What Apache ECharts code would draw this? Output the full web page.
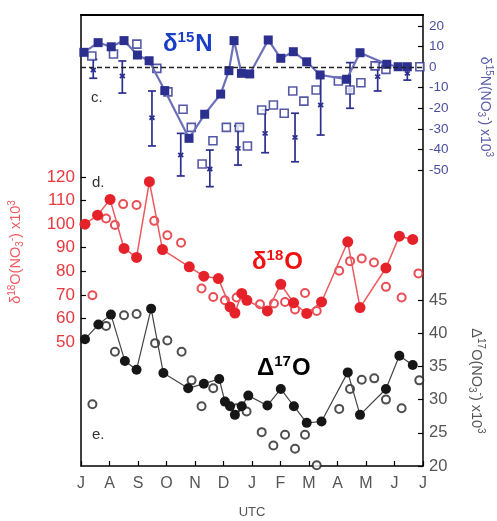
<!DOCTYPE html>
<html><head><meta charset="utf-8">
<script src="https://cdn.jsdelivr.net/npm/echarts/dist/echarts.min.js"></script>
<style>html,body{margin:0;padding:0;background:#fff}#c{width:497px;height:521px}</style>
</head><body><div id="c"></div>
<script>
// ---- data (x = months since July, y = per mil) ----
const monthLabels = ['J','A','S','O','N','D','J','F','M','A','M','J','J'];
const d15NFilled = [[0.10,7.2],[0.60,11.9],[1.06,9.9],[1.51,12.9],[1.98,5.9],[2.39,3.1],[2.94,-11.4],[3.79,-34.6],[4.34,-22.9],[4.90,-13.1],[5.19,-1.7],[5.37,12.9],[5.63,-3.0],[5.92,-3.3],[6.57,13.2],[7.01,4.3],[7.45,7.5],[7.92,2.6],[8.39,-3.8],[9.32,-5.9],[9.79,7.0],[10.73,1.4],[11.13,0.2],[11.45,0.2]];
const d15NOpen = [[0.38,5.4],[1.14,6.4],[1.96,11.2],[2.66,-0.6],[3.05,-12.0],[3.58,-20.5],[3.87,-29.3],[4.25,-47.1],[4.63,-35.8],[5.10,-29.3],[5.56,-29.3],[5.84,-38.3],[6.34,-20.8],[6.75,-18.4],[7.13,-22.4],[7.43,-11.6],[7.82,-16.5],[8.25,-11.1],[9.03,-6.7],[9.44,-11.1],[9.82,-7.6],[10.32,0.6],[10.70,-1.1],[11.89,0.2]];
// [x, centre, low, high]
const d15NErr = [[0.43,-1.4,-5.4,3.8],[1.45,-4.3,-12.6,3.0],[2.49,-24.6,-38.3,-11.6],[3.50,-42.7,-52.9,-32.2],[4.52,-49.5,-58.1,-40.3],[5.51,-39.5,-47.6,-28.6],[6.46,-32.2,-41.6,-20.8],[7.51,-34.1,-46.0,-22.4],[8.41,-18.4,-33.0,-3.8],[9.44,-11.1,-20.0,2.2],[10.41,-4.6,-11.6,2.2],[11.45,-3.0,-6.3,0.2]];
const d18OFilled = [[0.14,100.0],[0.58,103.8],[1.02,110.5],[1.51,89.7],[1.95,85.9],[2.40,118.0],[2.86,89.2],[3.80,81.9],[4.31,77.9],[4.82,76.9],[5.23,64.9],[5.40,62.3],[5.64,70.6],[5.82,67.7],[6.54,63.2],[7.01,74.5],[7.46,66.6],[7.92,62.1],[8.44,67.0],[9.36,92.5],[9.79,64.6],[10.70,81.4],[11.17,94.9],[11.64,93.5]];
const d18OOpen = [[0.40,69.8],[0.88,102.4],[1.19,99.6],[1.48,108.5],[1.95,108.1],[2.57,101.4],[3.03,95.3],[3.51,92.1],[4.23,72.7],[4.64,69.1],[5.05,67.7],[5.46,68.9],[6.28,66.0],[6.77,66.3],[7.16,67.0],[7.51,63.8],[7.86,70.8],[8.27,63.2],[9.06,80.2],[9.44,84.3],[9.85,85.4],[10.28,83.7],[10.70,73.4],[11.25,68.9],[11.84,79.1]];
const D17OFilled = [[0.14,39.1],[0.61,41.3],[1.05,42.8],[1.54,35.8],[1.95,34.5],[2.46,43.7],[2.89,34.0],[3.76,31.7],[4.31,32.4],[4.85,33.1],[5.05,29.7],[5.23,29.0],[5.40,27.7],[5.64,29.0],[5.87,30.6],[6.54,29.1],[7.01,31.6],[7.47,29.0],[7.92,26.5],[8.44,26.7],[9.36,34.1],[9.79,27.7],[10.70,31.6],[11.17,36.6],[11.64,35.2]];
const D17OOpen = [[0.40,29.3],[0.88,41.1],[1.19,37.2],[1.51,42.7],[1.95,42.9],[2.60,38.5],[3.03,38.9],[3.53,37.2],[3.88,32.9],[4.23,29.0],[4.64,31.7],[5.46,28.7],[5.81,28.2],[6.34,25.1],[6.75,23.1],[7.16,24.7],[7.51,22.6],[7.86,24.7],[8.27,20.1],[9.06,28.6],[9.44,31.6],[9.85,33.0],[10.29,33.2],[10.70,30.0],[11.25,28.7],[11.87,32.9]];

const FONT = '"Liberation Sans", Arial, Helvetica, sans-serif';
const NAVY = '#2b2f8e', NAVYLINE = '#6c70b8', RED = '#e5222a', REDLINE = '#ea5a5f', BLK = '#161616';
const L = 81, R = 497 - 423;

const chart = echarts.init(document.getElementById('c'), null, {renderer: 'canvas'});

function xAx(i, show) {
  return {
    type: 'value', gridIndex: i, min: 0, max: 12, interval: 1, show: show,
    axisLine: {show: true, onZero: false, lineStyle: {color: '#000', width: 1.5}},
    axisTick: {show: true, inside: true, length: 5, lineStyle: {color: '#000', width: 1.2}},
    axisLabel: {color: '#555', fontSize: 16, fontFamily: FONT, margin: 10, formatter: v => monthLabels[Math.round(v)]},
    splitLine: {show: false},
    name: 'UTC', nameLocation: 'middle', nameGap: 40,
    nameTextStyle: {color: '#555', fontSize: 13, fontFamily: FONT}
  };
}
function frameY(pos) {
  return {type: 'value', gridIndex: 0, position: pos, min: 0, max: 1,
    axisLine: {show: true, onZero: false, lineStyle: {color: '#000', width: 1.5}},
    axisTick: {show: false}, axisLabel: {show: false}, splitLine: {show: false}};
}
function valY(grid, pos, min, max, interval, color, fs) {
  return {type: 'value', gridIndex: grid, position: pos, min: min, max: max, interval: interval,
    axisLine: {show: false, onZero: false},
    axisTick: {show: true, inside: true, length: 5, lineStyle: {color: '#000', width: 1.2}},
    axisLabel: {color: color, fontSize: fs, fontFamily: FONT, margin: 6},
    splitLine: {show: false}};
}

const errRender = function (params, api) {
  const x = api.value(0), c = api.value(1), lo = api.value(2), hi = api.value(3);
  const pL = api.coord([x, lo]), pH = api.coord([x, hi]), pC = api.coord([x, c]);
  const w = 4, st = {stroke: NAVY, lineWidth: 1.7};
  return {type: 'group', children: [
    {type: 'line', shape: {x1: pL[0], y1: pL[1], x2: pH[0], y2: pH[1]}, style: st},
    {type: 'line', shape: {x1: pL[0] - w, y1: pL[1], x2: pL[0] + w, y2: pL[1]}, style: st},
    {type: 'line', shape: {x1: pH[0] - w, y1: pH[1], x2: pH[0] + w, y2: pH[1]}, style: st},
    {type: 'line', shape: {x1: pC[0] - 2.5, y1: pC[1] - 2, x2: pC[0] + 2.5, y2: pC[1] + 2}, style: st},
    {type: 'line', shape: {x1: pC[0] - 2.5, y1: pC[1] + 2, x2: pC[0] + 2.5, y2: pC[1] - 2}, style: st}
  ]};
};

// rotated axis title built from rich-text pieces: [text, kind] kind: n normal, u superscript, d subscript
function rotName(x, y, rot, parts, color, fs) {
  const txt = parts.map(p => '{' + p[1] + '|' + p[0] + '}').join('');
  const sfs = Math.round(fs * 0.72);
  return {type: 'text', x: x, y: y, rotation: rot, silent: true,
    style: {text: txt, fill: color, align: 'center', verticalAlign: 'middle',
      rich: {
        n: {fontSize: fs, fontFamily: FONT, fill: color, lineHeight: fs + 4, verticalAlign: 'middle'},
        u: {fontSize: sfs, fontFamily: FONT, fill: color, lineHeight: fs + 4, verticalAlign: 'top'},
        d: {fontSize: sfs, fontFamily: FONT, fill: color, lineHeight: fs + 4, verticalAlign: 'bottom'}
      }}};
}
function bigLabel(x, y, a, sup, b, color) {
  return {type: 'text', x: x, y: y, silent: true,
    style: {text: '{b|' + a + '}{s|' + sup + '}{b|' + b + '}', fill: color,
      rich: {b: {fontSize: 24, fontWeight: 'bold', fontFamily: FONT, fill: color, lineHeight: 26, verticalAlign: 'bottom'},
             s: {fontSize: 15, fontWeight: 'bold', fontFamily: FONT, fill: color, lineHeight: 26, verticalAlign: 'top', padding: [0, 1, 0, 0]}}}};
}
function small(x, y, t) {
  return {type: 'text', x: x, y: y, silent: true, style: {text: t, fill: '#333', font: '15px ' + FONT}};
}

const option = {
  animation: false,
  backgroundColor: '#fff',
  grid: [
    {left: L, right: R, top: 15, bottom: 55, outerBoundsMode: 'none', containLabel: false},
    {left: L, right: R, top: 26, height: 144, outerBoundsMode: 'none', containLabel: false},
    {left: L, right: R, top: 177, height: 165, outerBoundsMode: 'none', containLabel: false},
    {left: L, right: R, top: 300, height: 166, outerBoundsMode: 'none', containLabel: false}
  ],
  xAxis: [
    xAx(0, true), xAx(1, false), xAx(2, false), xAx(3, false),
    {type: 'value', gridIndex: 0, position: 'top', min: 0, max: 12,
      axisLine: {show: true, onZero: false, lineStyle: {color: '#000', width: 2.2}}, axisTick: {show: false}, axisLabel: {show: false}, splitLine: {show: false}}
  ],
  yAxis: [
    frameY('left'), frameY('right'),
    valY(1, 'right', -50, 20, 10, '#4a4e9e', 13.5),
    valY(2, 'left', 50, 120, 10, '#e8383e', 17),
    valY(3, 'right', 20, 45, 5, '#555', 16.5)
  ],
  series: [
    {type: 'custom', xAxisIndex: 1, yAxisIndex: 2, renderItem: errRender, data: d15NErr, clip: false,
      encode: {x: 0, y: [1, 2, 3]}, z: 2},
    {type: 'scatter', xAxisIndex: 1, yAxisIndex: 2, data: d15NOpen, symbol: 'rect', symbolSize: 8, clip: false,
      itemStyle: {color: '#fff', borderColor: NAVY, borderWidth: 1.6}, z: 3},
    {type: 'line', xAxisIndex: 1, yAxisIndex: 2, data: d15NFilled, symbol: 'rect', symbolSize: 9, clip: false,
      lineStyle: {color: NAVYLINE, width: 2.2}, itemStyle: {color: NAVY}, z: 4,
      markLine: {silent: true, symbol: 'none', label: {show: false},
        lineStyle: {color: '#222', type: [5, 3], width: 1.3}, data: [{yAxis: 0}]}},
    {type: 'scatter', xAxisIndex: 2, yAxisIndex: 3, data: d18OOpen, symbol: 'circle', symbolSize: 8, clip: false,
      itemStyle: {color: '#fff', borderColor: RED, borderWidth: 2}, z: 3},
    {type: 'line', xAxisIndex: 2, yAxisIndex: 3, data: d18OFilled, symbol: 'circle', symbolSize: 11, clip: false,
      lineStyle: {color: REDLINE, width: 1.5}, itemStyle: {color: RED}, z: 4},
    {type: 'scatter', xAxisIndex: 3, yAxisIndex: 4, data: D17OOpen, symbol: 'circle', symbolSize: 8, clip: false,
      itemStyle: {color: '#fff', borderColor: '#222', borderWidth: 2}, z: 3},
    {type: 'line', xAxisIndex: 3, yAxisIndex: 4, data: D17OFilled, symbol: 'circle', symbolSize: 10, clip: false,
      lineStyle: {color: '#444', width: 1.2}, itemStyle: {color: BLK}, z: 4}
  ],
  graphic: [
    bigLabel(163, 30, 'δ', '15', 'N', '#1b3ec6'),
    bigLabel(252, 248, 'δ', '18', 'O', '#f01010'),
    bigLabel(257, 354, 'Δ', '17', 'O', '#000'),
    small(91, 90, 'c.'), small(92, 175, 'd.'), small(92, 427, 'e.'),
    rotName(16, 252, Math.PI / 2, [['δ','n'],['18','u'],['O(NO','n'],['3','d'],['-','u'],[') x10','n'],['3','u']], '#ee5a60', 14.5),
    rotName(485, 107, -Math.PI / 2, [['δ','n'],['15','u'],['N(NO','n'],['3','d'],['-','u'],[') x10','n'],['3','u']], '#5a5ea8', 14),
    rotName(476, 381, -Math.PI / 2, [['Δ','n'],['17','u'],['O(NO','n'],['3','d'],['-','u'],[') x10','n'],['3','u']], '#555', 14.5)
  ]
};
chart.setOption(option);
</script>
</body></html>
